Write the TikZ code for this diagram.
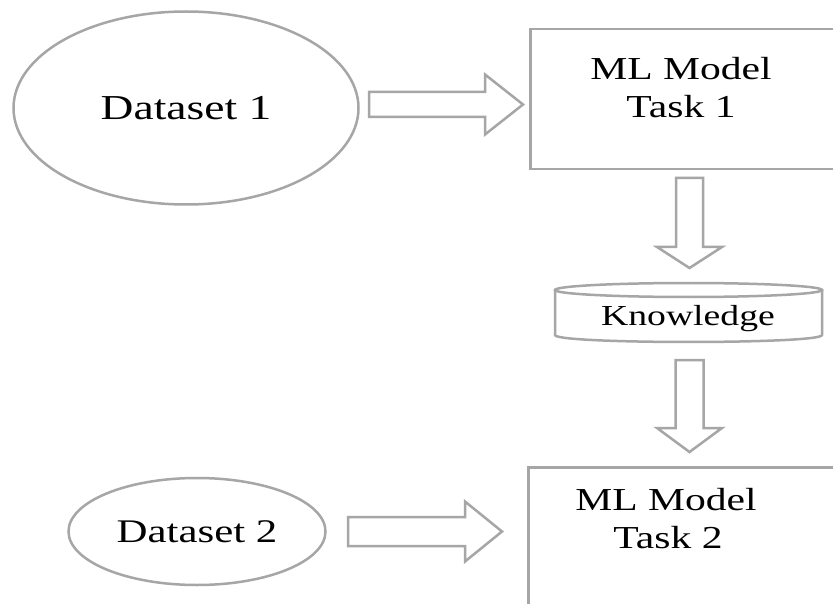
\documentclass[tikz,border=0pt]{standalone}
\usepackage{fontspec}
\setmainfont{Liberation Serif}[FakeStretch=1.3]
\usetikzlibrary{shapes.geometric,calc}
\definecolor{edgegray}{HTML}{A6A6A6}
\newcommand\myRarrow[5]{\draw[shapeline] ($(#1)+(0,-#3)$) -- ($(#2)+(-#5,-#3)$) -- ($(#2)+(-#5,-#4)$) -- (#2) -- ($(#2)+(-#5,#4)$) -- ($(#2)+(-#5,#3)$) -- ($(#1)+(0,#3)$) -- cycle;}
\newcommand\myDarrow[5]{\draw[shapeline] ($(#1)+(-#3,0)$) -- ($(#2)+(-#3,-#5)$) -- ($(#2)+(-#4,-#5)$) -- (#2) -- ($(#2)+(#4,-#5)$) -- ($(#2)+(#3,-#5)$) -- ($(#1)+(#3,0)$) -- cycle;}
\begin{document}
\begin{tikzpicture}[x=1pt,y=-1pt,line join=miter,
  shapeline/.style={draw=edgegray,line width=2.5pt},
  oval/.style={shapeline,ellipse,inner sep=0pt},
  txt/.style={inner sep=0pt,anchor=base,text=black}]
\useasboundingbox (0,0) rectangle (833,604);
\clip (0,0) rectangle (833,604);
\fill[white] (0,0) rectangle (833,604);
% Dataset 1
\node[oval,minimum width=345,minimum height=193,font=\fontsize{35}{40}\selectfont] (d1) at (186,108) {Dataset 1};
% Task 1 box
\node[shapeline,rectangle,anchor=north west,minimum width=330,minimum height=140,inner sep=0pt] (m1) at (529,28) {};
\node[txt,font=\fontsize{32}{38}\selectfont] (m1a) at (681,80) {ML Model};
\node[txt,font=\fontsize{32}{38}\selectfont] (m1b) at (681,118) {Task 1};
% Knowledge store
\node[inner sep=0pt,minimum width=267,minimum height=59] (kb) at (688.5,312.5) {};
\draw[shapeline] (555,290) -- (555,335) .. controls (555,344.3) and (822,344.3) .. (822,335) -- (822,290);
\draw[shapeline] (688.5,290) ellipse [x radius=133.5,y radius=7];
\node[txt,font=\fontsize{29}{34}\selectfont] (kbt) at (688,325) {Knowledge};
% Dataset 2
\node[oval,minimum width=257,minimum height=107,font=\fontsize{33}{38}\selectfont] (d2) at (197,531.5) {Dataset 2};
% Task 2 box
\node[shapeline,rectangle,anchor=north west,minimum width=330,minimum height=160,inner sep=0pt] (m2) at (527,466) {};
\node[txt,font=\fontsize{32}{38}\selectfont] (m2a) at (666,510) {ML Model};
\node[txt,font=\fontsize{32}{38}\selectfont] (m2b) at (668,548) {Task 2};
% block arrows
\coordinate (a1s) at (369,104.5); \coordinate (a1e) at (523,104.5);
\myRarrow{a1s}{a1e}{12.5}{30}{38}
\coordinate (a2s) at (689.5,178); \coordinate (a2e) at (689.5,268);
\myDarrow{a2s}{a2e}{13.5}{32.5}{21}
\coordinate (a3s) at (689.5,360); \coordinate (a3e) at (689.5,452);
\myDarrow{a3s}{a3e}{14}{32.5}{24}
\coordinate (a4s) at (348,531.5); \coordinate (a4e) at (502,531.5);
\myRarrow{a4s}{a4e}{14.5}{30}{37}
\end{tikzpicture}
\end{document}
